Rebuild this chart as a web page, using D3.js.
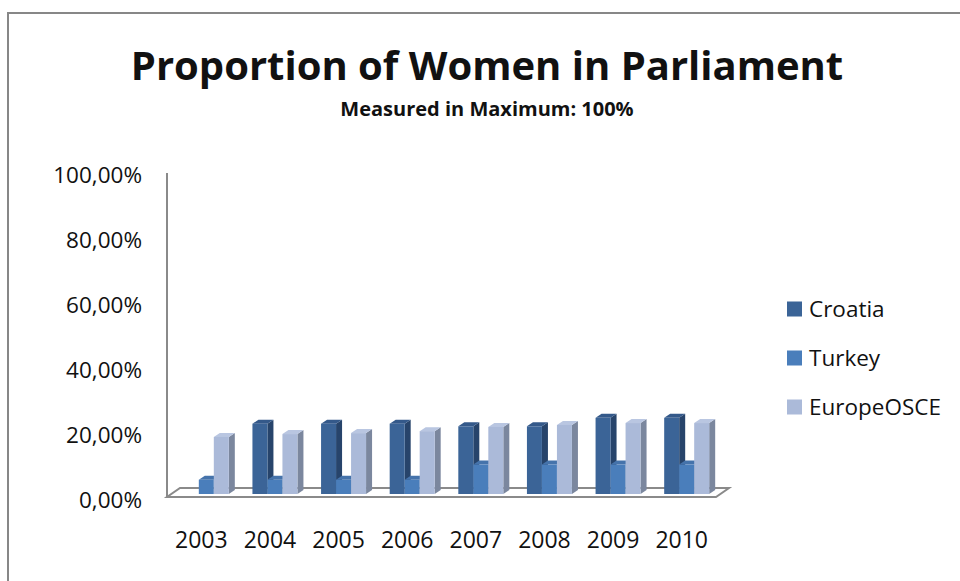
<!DOCTYPE html>
<html lang="en">
<head>
  <meta charset="UTF-8">
  <title>Proportion of Women in Parliament</title>
  <script src="https://cdnjs.cloudflare.com/ajax/libs/d3/7.8.5/d3.min.js"></script>
  <style>
    body { margin: 0; background: #fff; }
    text { font-family: "Open Sans", sans-serif; fill: #111; }
  </style>
</head>
<body>
  <svg></svg>
  <script>
    const years = ['2003', '2004', '2005', '2006', '2007', '2008', '2009', '2010'];
    const seriesNames = ['Croatia', 'Turkey', 'EuropeOSCE'];
    const croatia = [0, 0.217, 0.217, 0.217, 0.209, 0.209, 0.235, 0.235];
    const turkey = [0.044, 0.044, 0.044, 0.044, 0.091, 0.091, 0.091, 0.091];
    const europeOSCE = [0.176, 0.185, 0.188, 0.194, 0.207, 0.213, 0.219, 0.219];
    const yTicks = [0, 0.2, 0.4, 0.6, 0.8, 1];

    const values = [croatia, turkey, europeOSCE];
    // front / side / top shades per series
    const shades = [
      { front: '#3b6497', side: '#27446b', top: '#34598a' },
      { front: '#4a7ebb', side: '#375f8e', top: '#4573ab' },
      { front: '#abbad9', side: '#7b879e', top: '#b9c6e1' }
    ];

    const width = 960, height = 581;
    const svg = d3.select('svg').attr('width', width).attr('height', height);

    // chart border
    svg.append('rect')
      .attr('x', 8).attr('y', 13).attr('width', 1000).attr('height', 1000)
      .attr('fill', 'none').attr('stroke', '#878787').attr('stroke-width', 2);

    svg.append('text')
      .attr('x', 487).attr('y', 80)
      .attr('text-anchor', 'middle')
      .style('font-size', '40px').style('font-weight', 'bold')
      .text('Proportion of Women in Parliament');

    svg.append('text')
      .attr('x', 487).attr('y', 116)
      .attr('text-anchor', 'middle')
      .style('font-size', '20px').style('font-weight', 'bold')
      .text('Measured in Maximum: 100%');

    const locale = d3.formatLocale({ decimal: ',', thousands: '.', grouping: [3], currency: ['', '€'] });
    const pct = locale.format('.2%');

    const x = d3.scaleBand().domain(years).range([167, 716]);
    const xs = d3.scaleBand().domain(seriesNames).range([0, 45]);
    const y = d3.scaleLinear().domain([0, 1]).range([494, 170]);
    const yLab = d3.scaleLinear().domain([0, 1]).range([500, 175]);
    const dx = 6, dy = -4;

    // y labels
    svg.append('g').selectAll('text')
      .data(yTicks)
      .enter()
      .append('text')
      .attr('x', 142)
      .attr('y', d => yLab(d))
      .attr('dy', '0.35em')
      .attr('text-anchor', 'end')
      .style('font-size', '22.5px')
      .text(d => pct(d));

    // wall edge + floor
    const fy = 497, depthX = 13, depthY = -9;
    svg.append('line')
      .attr('x1', 167).attr('x2', 167).attr('y1', 173).attr('y2', fy)
      .attr('stroke', '#8a8a8a').attr('stroke-width', 2);
    svg.append('path')
      .attr('d', `M167,${fy} L${x.range()[1]},${fy} L${x.range()[1] + depthX},${fy + depthY} L${167 + depthX},${fy + depthY} Z`)
      .attr('fill', '#fff').attr('stroke', '#8a8a8a').attr('stroke-width', 2);

    // bars
    const bars = [];
    years.forEach((yr, i) => {
      seriesNames.forEach((s, j) => {
        bars.push({ year: yr, si: j, v: values[j][i] });
      });
    });

    const g = svg.append('g');
    const bar = g.selectAll('g.bar')
      .data(bars.filter(d => d.v > 0))
      .enter()
      .append('g')
      .attr('class', 'bar');

    const bx = d => x(d.year) + x.bandwidth() / 2 - 22.5 + 5 + xs(seriesNames[d.si]);
    const bw = xs.bandwidth();

    bar.append('path')
      .attr('d', d => {
        const x0 = bx(d) + bw, yt = y(d.v), yb = y(0);
        return `M${x0},${yb} L${x0 + dx},${yb + dy} L${x0 + dx},${yt + dy} L${x0},${yt} Z`;
      })
      .attr('fill', d => shades[d.si].side);

    bar.append('path')
      .attr('d', d => {
        const x0 = bx(d), yt = y(d.v);
        return `M${x0},${yt} L${x0 + dx},${yt + dy} L${x0 + bw + dx},${yt + dy} L${x0 + bw},${yt} Z`;
      })
      .attr('fill', d => shades[d.si].top);

    bar.append('rect')
      .attr('x', d => bx(d))
      .attr('y', d => y(d.v))
      .attr('width', bw)
      .attr('height', d => y(0) - y(d.v))
      .attr('fill', d => shades[d.si].front);

    // x labels
    svg.append('g').selectAll('text')
      .data(years)
      .enter()
      .append('text')
      .attr('x', d => x(d) + x.bandwidth() / 2)
      .attr('y', 540)
      .attr('dy', '0.35em')
      .attr('text-anchor', 'middle')
      .style('font-size', '23px')
      .text(d => d);

    // legend
    const legend = svg.append('g').selectAll('g')
      .data(seriesNames)
      .enter()
      .append('g')
      .attr('transform', (d, i) => `translate(787,${309 + i * 49})`);
    legend.append('rect')
      .attr('x', 0).attr('y', -7.5).attr('width', 15).attr('height', 15)
      .attr('fill', (d, i) => shades[i].front);
    legend.append('text')
      .attr('x', 22).attr('y', 0).attr('dy', '0.35em')
      .style('font-size', '22.5px')
      .text(d => d);
  </script>
</body>
</html>
